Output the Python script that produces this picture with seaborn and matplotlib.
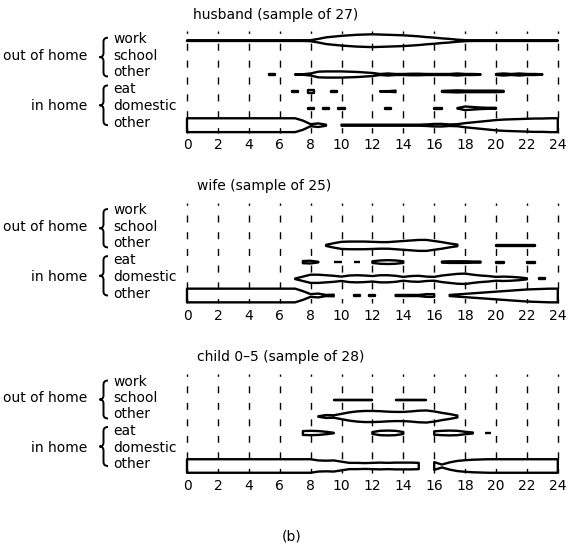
import numpy as np
import matplotlib
matplotlib.use("Agg")
import matplotlib.pyplot as plt
import seaborn as sns
from matplotlib.path import Path
from matplotlib.patches import PathPatch

# time of day, half-hour steps
hours = np.arange(0, 24.5, 0.5)
tick_hours = list(range(0, 25, 2))
activities = ["work", "school", "other", "eat", "domestic", "other"]
groups = ["out of home", "in home"]

# number of persons in each activity at each half hour
husband_n = 27
husband_work = [1] * 16 + [2, 7, 13, 16, 19, 21, 23, 24, 25, 24, 23, 22, 21, 19, 17, 14, 12, 9, 7, 4, 2] + [1] * 12
husband_school = [0] * 49
husband_other_out = [0] * 11 + [1, 0, 0] + [1, 1, 4, 11, 12, 12, 12, 11, 10, 8, 6, 2, 4, 2, 2, 3, 3, 2, 2, 2, 2, 4,
                                            2, 2, 1] + [0, 2, 4, 2, 4, 2, 2, 1, 0, 0]
husband_eat = [0] * 14 + [1, 0, 6, 0, 0, 1, 0, 0, 0, 0, 0, 1, 1, 3, 0, 0, 0, 0, 0, 2, 3, 4, 3, 3, 3, 3, 3, 2,
                          0, 0, 0, 0, 0, 0, 0]
husband_domestic = [0] * 16 + [2, 0, 1, 0, 2] + [0] * 5 + [1] + [0] * 5 + [1, 1, 0, 1, 7, 5, 3, 2, 2] + [0] * 8
husband_other_in = [27] * 15 + [18, 4, 7, 2, 0, 2] + [2] * 10 + [3, 5, 5, 3, 4, 8, 11, 14, 17, 20, 22, 23, 24,
                                                                 25, 26, 26, 27, 27]

wife_n = 25
wife_work = [0] * 49
wife_school = [0] * 49
wife_other_out = [0] * 18 + [2, 8, 13, 14, 14, 14, 13, 12, 12, 14, 16, 18, 20, 20, 16, 12, 7, 3,
                             0, 0, 0, 0, 2, 2, 2, 2, 2, 2, 0, 0, 0]
wife_eat = [0] * 15 + [4, 5, 1, 0, 1, 1, 0, 1, 0, 3, 6, 7, 6, 3, 0, 0, 0, 0, 2, 3, 3, 3, 2, 2,
                       0, 2, 2, 0, 0, 2, 2, 0, 0, 0]
wife_domestic = [0] * 14 + [1, 8, 15, 15, 13, 11, 8, 12, 13, 12, 10, 13, 13, 11, 7, 10, 11, 8, 7, 12, 15, 18, 19, 15,
                            12, 10, 7, 8, 7, 5, 2, 0, 2, 0, 0]
wife_other_in = [25] * 15 + [16, 5, 7, 2, 3, 0, 0, 2, 0, 3, 0, 0, 2, 2, 2, 2, 5, 5, 0, 2, 4, 6, 8, 10, 12,
                             14, 16, 18, 20, 22, 23, 24, 25, 25]

child_n = 28
child_work = [0] * 49
child_school = [0] * 19 + [2, 2, 2, 2, 2, 2, 0, 0, 2, 2, 2, 2, 2] + [0] * 17
child_other_out = [0] * 17 + [1, 6, 5, 11, 17, 21, 23, 23, 22, 20, 19, 19, 21, 24, 25, 21, 15, 10, 4] + [0] * 13
child_eat = [0] * 15 + [8, 9, 8, 5, 1, 0, 0, 0, 0, 4, 9, 10, 9, 4, 0, 0, 0, 7, 9, 10, 9, 5, 2, 0, 2] + [0] * 9
child_domestic = [0] * 49
child_other_in = [28] * 16 + [28, 23, 22, 23, 18, 13, 13, 12, 13, 14, 13, 14, 14, 14, 13, 0, 16, 6, 15, 21, 24,
                              26, 27, 28] + [28] * 9

panels = [
    ("husband (sample of 27)", husband_n,
     [husband_work, husband_school, husband_other_out, husband_eat, husband_domestic, husband_other_in]),
    ("wife (sample of 25)", wife_n,
     [wife_work, wife_school, wife_other_out, wife_eat, wife_domestic, wife_other_in]),
    ("child 0\u20135 (sample of 28)", child_n,
     [child_work, child_school, child_other_out, child_eat, child_domestic, child_other_in]),
]

sns.set_theme(style="white")
plt.rcParams["font.family"] = ["DejaVu Sans"]
plt.rcParams["text.color"] = "black"
plt.rcParams["xtick.color"] = "black"
plt.rcParams["lines.scale_dashes"] = False

W, H = 573, 551
X0, PPH = 187, 15.45          # pixel of hour 0, pixels per hour
ROW0 = [40.7, 212.0, 383.5]   # pixel of the first row in each panel
SPACING = [16.9, 16.7, 16.5]
HALF_FULL = 0.41
LW = 1.7

fig = plt.figure(figsize=(W / 100, H / 100), dpi=100)
ov = fig.add_axes([0, 0, 1, 1], zorder=5)
ov.set_xlim(0, W)
ov.set_ylim(H, 0)
ov.set_axis_off()


def draw_kite(ax, row, counts, n):
    counts = np.asarray(counts, float)
    half = counts / n * HALF_FULL
    i = 0
    while i < len(counts):
        if counts[i] <= 0:
            i += 1
            continue
        j = i
        while j + 1 < len(counts) and counts[j + 1] > 0:
            j += 1
        x = hours[i:j + 1]
        h = half[i:j + 1]
        if i == j:
            x = np.array([x[0] - 0.2, x[0] + 0.2])
            h = np.array([h[0], h[0]])
        ax.fill_between(x, row - h, row + h, facecolor="none", edgecolor="black", lw=LW)
        i = j + 1


def brace(y_top, y_bot, x_tip=99.5, x_body=103.5, x_end=108):
    ym = (y_top + y_bot) / 2
    verts = [(x_end, y_top), (x_body, y_top), (x_body, y_top + 4),
             (x_body, ym - 4),
             (x_body, ym), (x_tip, ym),
             (x_body, ym), (x_body, ym + 4),
             (x_body, y_bot - 4),
             (x_body, y_bot), (x_end, y_bot)]
    codes = [Path.MOVETO, Path.CURVE3, Path.CURVE3, Path.LINETO, Path.CURVE3, Path.CURVE3,
             Path.CURVE3, Path.CURVE3, Path.LINETO, Path.CURVE3, Path.CURVE3]
    ov.add_patch(PathPatch(Path(verts, codes), facecolor="none", edgecolor="black", lw=1.4))


for p, (title, n, rows) in enumerate(panels):
    y0, s = ROW0[p], SPACING[p]
    left_px = X0 - 0.5 * PPH
    top_px = y0 - 0.7 * s
    ax = fig.add_axes([left_px / W, 1 - (top_px + 6.4 * s) / H, 25 * PPH / W, 6.4 * s / H])
    ax.set_xlim(-0.5, 24.5)
    ax.set_ylim(5.7, -0.7)
    sns.despine(ax=ax, left=True, bottom=True)
    ax.set_yticks([])
    ax.set_xticks(tick_hours)
    ax.set_xticklabels([str(t) for t in tick_hours], fontsize=10)
    ax.tick_params(axis="x", length=0, pad=1)
    ax.patch.set_alpha(0)

    on = 0.42 * s * 0.72
    off = 0.58 * s * 0.72
    ax.vlines(tick_hours, -0.55, 5.45, colors="black", lw=1.0,
              linestyles=[(0.28 * s * 0.72, (on, off))])

    for r, counts in enumerate(rows):
        draw_kite(ax, r, counts, n)

    ov.text(193 if p == 0 else 197, y0 - 26, title, fontsize=10, ha="left", va="center")
    for r, name in enumerate(activities):
        ov.text(113, y0 + r * s - 2, name, fontsize=10, ha="left", va="center")
    ov.text(87, y0 + s - 2, groups[0], fontsize=10, ha="right", va="center")
    ov.text(87, y0 + 4 * s - 2, groups[1], fontsize=10, ha="right", va="center")
    brace(y0 - 3, y0 + 2 * s + 2)
    brace(y0 + 3 * s - 6, y0 + 5 * s)

ov.text(292, 537, "(b)", fontsize=10, ha="center", va="center")

fig.savefig("out.png", dpi=100, facecolor="white")
